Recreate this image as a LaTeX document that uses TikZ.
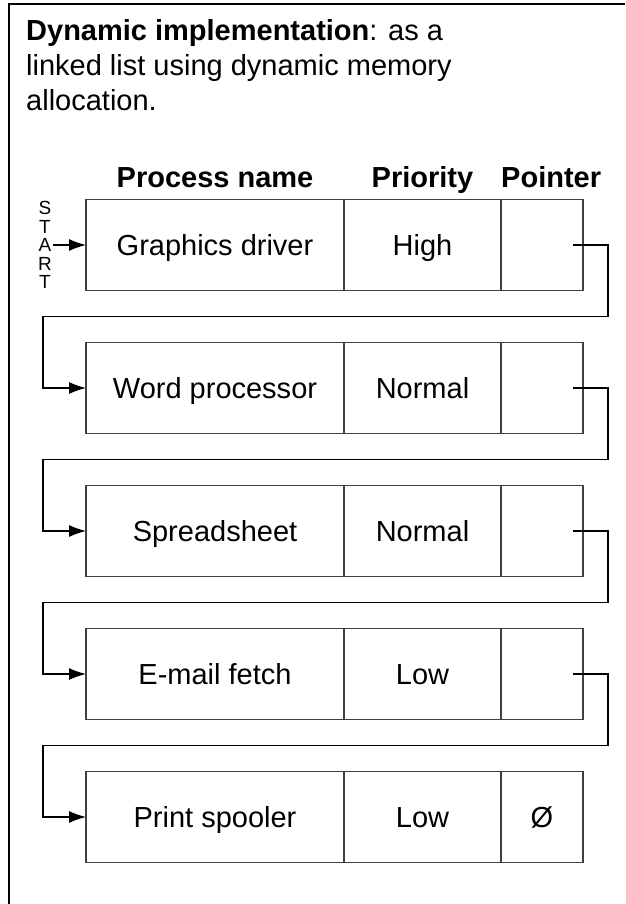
\documentclass[tikz,border=0pt]{standalone}
\usepackage{fontspec}
\setmainfont{Liberation Sans}
\usetikzlibrary{arrows.meta,calc,positioning}
\newcommand{\cellfont}{\fontsize{29}{35}\selectfont}
\newcommand{\startfont}{\fontsize{19}{18.5}\selectfont}
\tikzset{%
	cell/.style     = {draw=black!75, line width=1.2pt, rectangle, outer sep=0pt, minimum height=91pt, text height=21pt, text depth=0pt, text centered, font=\cellfont},
	namecell/.style = {cell, minimum width=258pt}, % Process name
	priocell/.style = {cell, minimum width=157pt}, % Priority
	ptrcell/.style  = {cell, minimum width=82pt}, % Pointer
	header/.style   = {font=\cellfont\bfseries, inner sep=0pt},
	link/.style     = {line width=1.2pt, ->},
}
\begin{document}
\begin{tikzpicture}[x=1pt,y=1pt,node distance=52pt,>={Latex[length=17pt,width=12pt]}]
	\useasboundingbox (0,0) rectangle (625,-904);
	\draw[line width=1.2pt] (9,-904) -- (9,-4) -- (625,-4);
	% base of a multi-line node is its last line
	\node [anchor=base west, align=left, font=\cellfont, inner sep=0pt] (title) at (26,-111)
		{\textbf{Dynamic implementation}: as a\\linked list using dynamic memory\\allocation.};
	
	% rows of the list
	\node [namecell] (n1) at (215,-245) {Graphics driver};
	\node [priocell] (r1) [right=0pt of n1] {High};
	\node [ptrcell] (p1) [right=0pt of r1] {};
	\node [namecell] (n2) [below=52pt of n1] {Word processor};
	\node [priocell] (r2) [right=0pt of n2] {Normal};
	\node [ptrcell] (p2) [right=0pt of r2] {};
	\node [namecell] (n3) [below=52pt of n2] {Spreadsheet};
	\node [priocell] (r3) [right=0pt of n3] {Normal};
	\node [ptrcell] (p3) [right=0pt of r3] {};
	\node [namecell] (n4) [below=52pt of n3] {E-mail fetch};
	\node [priocell] (r4) [right=0pt of n4] {Low};
	\node [ptrcell] (p4) [right=0pt of r4] {};
	\node [namecell] (n5) [below=52pt of n4] {Print spooler};
	\node [priocell] (r5) [right=0pt of n5] {Low};
	\node [ptrcell] (p5) [right=0pt of r5] {Ø};
	
	% column headers
	\node [header, anchor=base] (hname) at ([yshift=12pt]n1.north) {Process name};
	\node [header, anchor=base] (hprio) at ([yshift=12pt]r1.north) {Priority};
	\node [header, anchor=base west] (hptr) at ([yshift=12pt]p1.north west) {Pointer};
	
	\node [font=\startfont, align=center, inner sep=1pt, left=33pt of n1] (start) {S\\T\\A\\R\\T};
	
	\draw[link] (start) -- (n1);
	\draw[link] ([xshift=-10pt]p1.east) -- ([xshift=25pt]p1.east) |- ($(n1.south)!0.5!(n2.north)$) -| ([xshift=-43pt]n2.west) -- (n2.west);
	\draw[link] ([xshift=-10pt]p2.east) -- ([xshift=25pt]p2.east) |- ($(n2.south)!0.5!(n3.north)$) -| ([xshift=-43pt]n3.west) -- (n3.west);
	\draw[link] ([xshift=-10pt]p3.east) -- ([xshift=25pt]p3.east) |- ($(n3.south)!0.5!(n4.north)$) -| ([xshift=-43pt]n4.west) -- (n4.west);
	\draw[link] ([xshift=-10pt]p4.east) -- ([xshift=25pt]p4.east) |- ($(n4.south)!0.5!(n5.north)$) -| ([xshift=-43pt]n5.west) -- (n5.west);
\end{tikzpicture}
\end{document}
